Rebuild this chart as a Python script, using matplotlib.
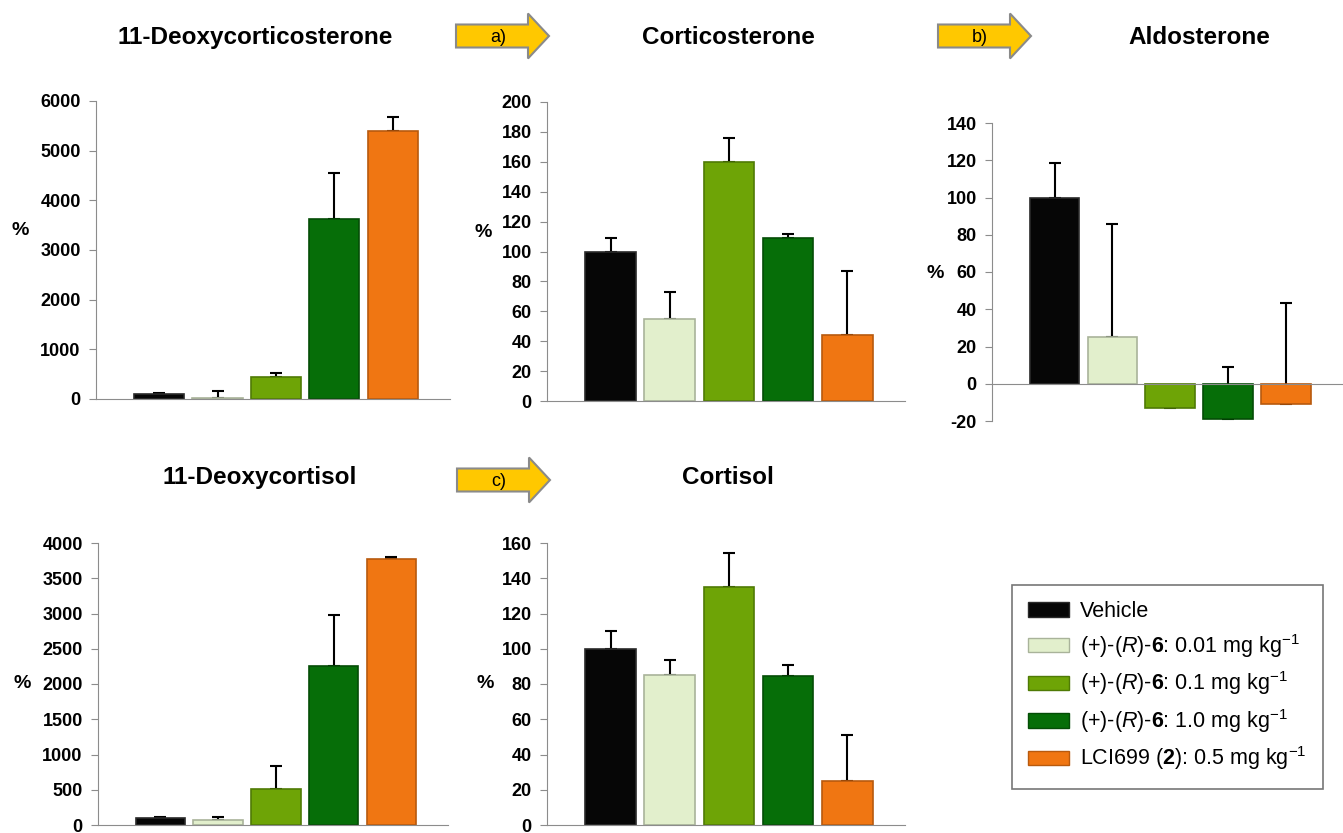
import numpy as np
import matplotlib
matplotlib.use("Agg")
import matplotlib.pyplot as plt
from matplotlib.patches import Patch, Polygon

plt.rcParams['font.family'] = ['Liberation Sans', 'DejaVu Sans']
plt.rcParams['mathtext.fontset'] = 'custom'
plt.rcParams['mathtext.rm'] = 'Liberation Sans'
plt.rcParams['mathtext.it'] = 'Liberation Sans:italic'
plt.rcParams['mathtext.bf'] = 'Liberation Sans:bold'
plt.rcParams['axes.unicode_minus'] = False

# data (% of vehicle), error bars drawn upward only
groups = ['Vehicle',
          '(+)-($\\it{R}$)-$\\bf{6}$: 0.01 mg kg$^{-1}$',
          '(+)-($\\it{R}$)-$\\bf{6}$: 0.1 mg kg$^{-1}$',
          '(+)-($\\it{R}$)-$\\bf{6}$: 1.0 mg kg$^{-1}$',
          'LCI699 ($\\bf{2}$): 0.5 mg kg$^{-1}$']
bar_colors = ['#060606', '#e2efcc', '#6ea406', '#066e08', '#f07612']
edge_colors = ['#2a2a2a', '#a9b39a', '#4f7a05', '#044d06', '#b85a0e']

deoxycorticosterone = [100, 30, 440, 3620, 5400]
deoxycorticosterone_err = [15, 140, 90, 930, 280]
corticosterone = [100, 55, 160, 109, 44]
corticosterone_err = [9, 18, 16, 3, 43]
aldosterone = [100, 25, -13, -19, -11]
aldosterone_err = [18.5, 61, 11, 28, 54.5]
deoxycortisol = [100, 65, 510, 2250, 3770]
deoxycortisol_err = [18, 43, 330, 730, 30]
cortisol = [100, 85, 135, 84.5, 25]
cortisol_err = [10, 8.5, 19.5, 6.5, 26]

W, H = 1343, 833
fig = plt.figure(figsize=(W / 100, H / 100), dpi=100)


def box(x0, y0, x1, y1):
    # pixel box (top-left origin) -> figure fraction
    return [x0 / W, (H - y1) / H, (x1 - x0) / W, (y1 - y0) / H]


# overlay for titles, arrows and labels, in pixel coords
ov = fig.add_axes([0, 0, 1, 1], zorder=0)
ov.set_xlim(0, W)
ov.set_ylim(H, 0)
ov.axis('off')

panels = [
    ('11-Deoxycorticosterone', deoxycorticosterone, deoxycorticosterone_err,
     (96, 101, 450, 399), (0, 6000), np.arange(0, 6001, 1000), (255, 37), (20, 230)),
    ('Corticosterone', corticosterone, corticosterone_err,
     (547, 102, 905, 401), (0, 200), np.arange(0, 201, 20), (728, 37), (483, 232)),
    ('Aldosterone', aldosterone, aldosterone_err,
     (992, 123, 1343, 421), (-20, 140), np.arange(-20, 141, 20), (1199, 37), (935, 274)),
    ('11-Deoxycortisol', deoxycortisol, deoxycortisol_err,
     (98, 543, 448, 825), (0, 4000), np.arange(0, 4001, 500), (260, 477), (22, 683)),
    ('Cortisol', cortisol, cortisol_err,
     (547, 543, 905, 825), (0, 160), np.arange(0, 161, 20), (728, 477), (485, 683)),
]

x = np.arange(len(groups))
for title, vals, errs, pbox, ylim, yticks, tpos, ppos in panels:
    ax = fig.add_axes(box(*pbox), zorder=2)
    ax.patch.set_alpha(0)
    ax.bar(x, vals, width=0.86, color=bar_colors, edgecolor=edge_colors,
           linewidth=1.2, zorder=2)
    ax.errorbar(x, vals, yerr=[np.zeros(len(errs)), errs], fmt='none',
                ecolor='black', elinewidth=1.5, capsize=4, capthick=1.5, zorder=1)
    ax.set_xlim(-1.08, 4.98)
    ax.set_ylim(*ylim)
    ax.set_yticks(yticks)
    ax.set_xticks([])
    for s in ['top', 'right']:
        ax.spines[s].set_visible(False)
    ax.spines['left'].set_color('#8c8c8c')
    ax.spines['bottom'].set_color('#8c8c8c')
    ax.spines['bottom'].set_position(('data', 0))
    ax.tick_params(axis='y', direction='out', length=5, color='#8c8c8c',
                   labelsize=13, pad=6)
    for lab in ax.get_yticklabels():
        lab.set_fontweight('bold')
    ov.text(tpos[0], tpos[1], title, fontsize=17.5, fontweight='bold',
            ha='center', va='center')
    ov.text(ppos[0], ppos[1], '%', fontsize=14, fontweight='bold',
            ha='center', va='center')

# pathway arrows
for x0, yc, lab in [(456, 36, 'a)'), (938, 36, 'b)'), (457, 480, 'c)')]:
    pts = [(x0, yc - 11.5), (x0 + 72, yc - 11.5), (x0 + 72, yc - 22.5),
           (x0 + 93, yc), (x0 + 72, yc + 22.5), (x0 + 72, yc + 11.5),
           (x0, yc + 11.5)]
    ov.add_patch(Polygon(pts, closed=True, facecolor='#ffc800',
                         edgecolor='#8a8a8a', linewidth=1.5))
    ov.text(x0 + 42, yc + 1, lab, fontsize=13, ha='center', va='center')

handles = [Patch(facecolor=c, edgecolor=e, linewidth=1.0)
           for c, e in zip(bar_colors, edge_colors)]
leg = fig.legend(handles, groups, loc='upper left',
                 bbox_to_anchor=(1012 / W, 1 - 585 / H), fontsize=15.5,
                 frameon=True, fancybox=False, handlelength=1.9,
                 handleheight=0.65, labelspacing=0.45, handletextpad=0.5,
                 borderpad=0.75, borderaxespad=0)
leg.get_frame().set_edgecolor('#555555')
leg.get_frame().set_linewidth(1.2)

fig.savefig('out.png', dpi=100)
